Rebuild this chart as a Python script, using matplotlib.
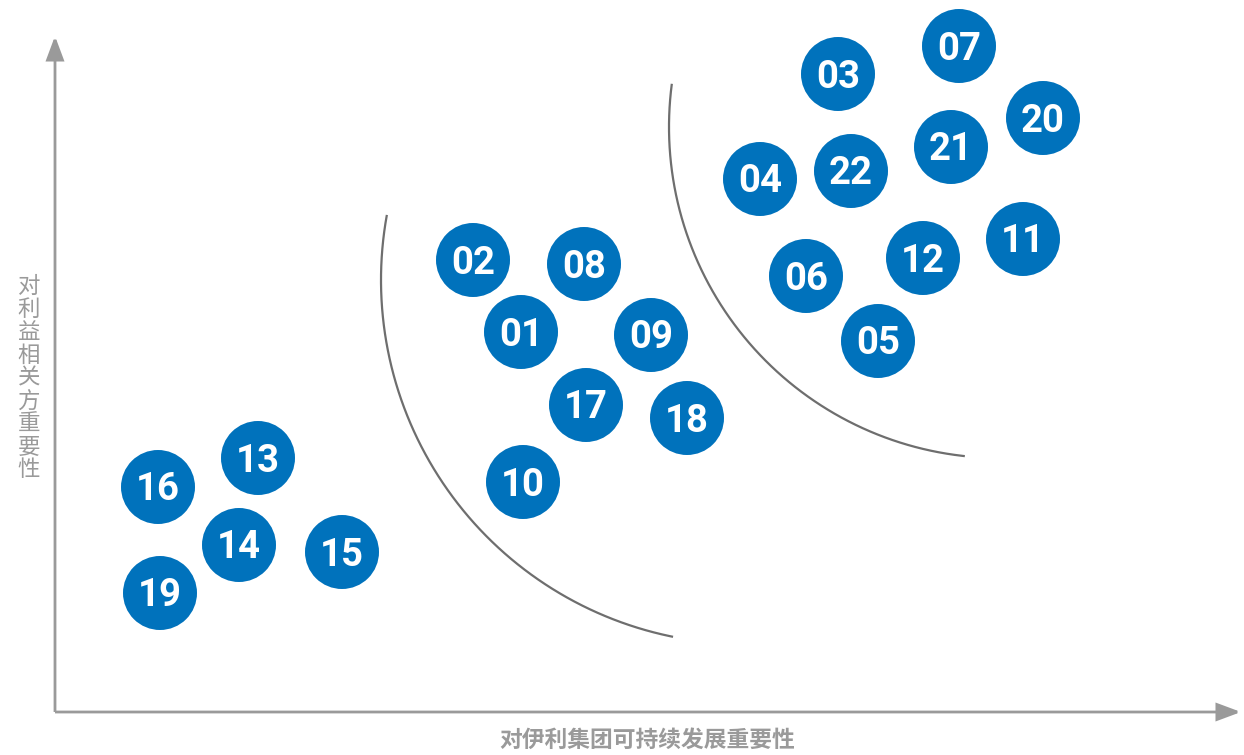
import numpy as np
import matplotlib
matplotlib.use("Agg")
import matplotlib.pyplot as plt
from matplotlib.patches import Circle, FancyArrowPatch

# issue ids and their position on the materiality matrix
issue_ids = ["01", "02", "03", "04", "05", "06", "07", "08", "09", "10", "11",
             "12", "13", "14", "15", "16", "17", "18", "19", "20", "21", "22"]
# importance to the company's sustainable development (x)
company_importance = [466, 418, 783, 705, 823, 751, 904, 529, 596, 468, 968,
                      868, 203, 184, 287, 103, 531, 632, 105, 988, 896, 796]
# importance to stakeholders (y)
stakeholder_importance = [380, 452, 638, 533, 371, 436, 666, 448, 377, 230, 473,
                          454, 254, 167, 160, 225, 307, 294, 119, 594, 565, 541]

x_label = "对伊利集团可持续发展重要性"
y_label = "对利益相关方重要性"

BUBBLE_COLOR = "#0072bc"
AXIS_COLOR = "#9a9a9a"
ARC_COLOR = "#6e6e6e"
BUBBLE_RADIUS = 37

# separating arcs: center, radius, start/end angle (degrees)
arcs = [
    ((690, 432), 364, 169.7, 258.6),
    ((945, 585), 331, 172.5, 263.9),
]


def draw_axes_arrows(ax):
    """Draw the two arrowed axes."""
    style = "-|>,head_length=14.5,head_width=5.4"
    for end in [(0, 676), (1186, 0)]:
        arrow = FancyArrowPatch((0, 0), end, arrowstyle=style, mutation_scale=1,
                                color=AXIS_COLOR, lw=2.0, shrinkA=0, shrinkB=0,
                                joinstyle="miter", capstyle="butt")
        ax.add_patch(arrow)


def draw_arcs(ax):
    """Draw the thin curves separating the groups."""
    for (cx, cy), r, a0, a1 in arcs:
        t = np.radians(np.linspace(a0, a1, 200))
        ax.plot(cx + r * np.cos(t), cy + r * np.sin(t), color=ARC_COLOR, lw=1.6,
                solid_capstyle="butt")


fig = plt.figure(figsize=(12.44, 7.55), dpi=100)
ax = fig.add_axes([0, 0, 1, 1])
ax.set_xlim(-55, 1189)
ax.set_ylim(-43, 712)
ax.set_aspect("equal")
ax.axis("off")

draw_axes_arrows(ax)
draw_arcs(ax)

for label, x, y in zip(issue_ids, company_importance, stakeholder_importance):
    ax.add_patch(Circle((x, y), BUBBLE_RADIUS, facecolor=BUBBLE_COLOR,
                        edgecolor="none", zorder=3))
    ax.text(x, y - 13.5, label, color="white", fontsize=27.5, fontweight="bold",
            family="Roboto", ha="center", va="baseline", zorder=4)

ax.text(592, -28, x_label, color=AXIS_COLOR, fontsize=16.4, fontweight="bold",
        family=["Noto Sans CJK SC", "DejaVu Sans"], ha="center", va="center")
ax.text(-26, 334, "\n".join(y_label), color=AXIS_COLOR, fontsize=16.2,
        family=["Noto Sans CJK SC", "DejaVu Sans"], ha="center", va="center",
        linespacing=1.0)

fig.savefig("out.png", dpi=100)
